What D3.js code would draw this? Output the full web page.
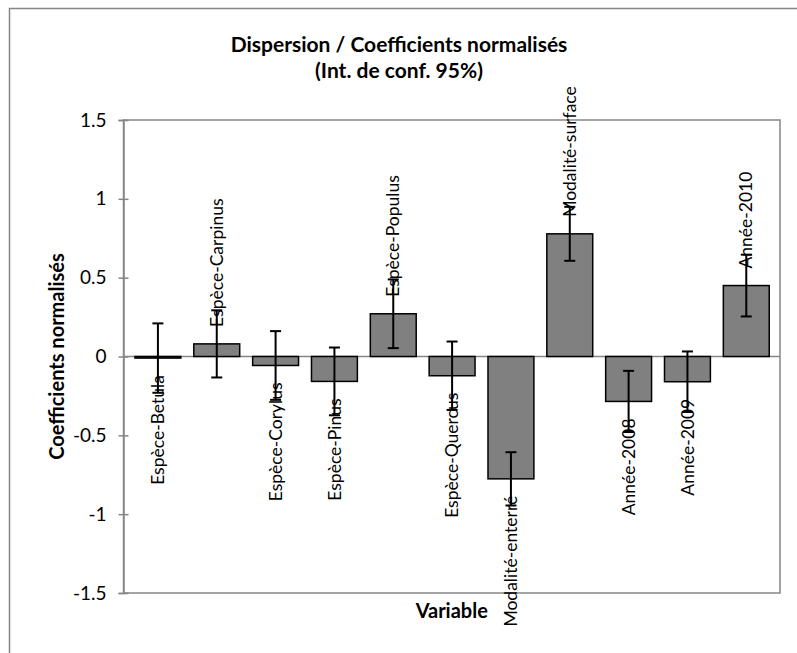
<!DOCTYPE html>
<html>
<head>
<meta charset="utf-8">
<script src="https://cdn.jsdelivr.net/npm/d3@7"></script>
<style>
  html, body { margin: 0; padding: 0; background: #fff; }
  svg { display: block; }
  text { font-family: Lato, "Open Sans", sans-serif; fill: #000; }
</style>
</head>
<body>
<svg id="chart" width="797" height="653"></svg>
<script>
// ---- data ----
const categories = ["Espèce-Betula", "Espèce-Carpinus", "Espèce-Corylus", "Espèce-Pinus",
  "Espèce-Populus", "Espèce-Quercus", "Modalité-enterré", "Modalité-surface",
  "Année-2008", "Année-2009", "Année-2010"];
const values = [-0.01, 0.08, -0.057, -0.158, 0.271, -0.122, -0.776, 0.778, -0.285, -0.160, 0.450];
const errors = [0.22, 0.213, 0.218, 0.215, 0.218, 0.217, 0.169, 0.171, 0.194, 0.192, 0.196];
const yTicks = [-1.5, -1, -0.5, 0, 0.5, 1, 1.5];
const yTickLabels = ["-1.5", "-1", "-0.5", "0", "0.5", "1", "1.5"];
const titleLines = ["Dispersion / Coefficients normalisés", "(Int. de conf. 95%)"];
const yTitle = "Coefficients normalisés";
const xTitle = "Variable";

// ---- layout ----
const svg = d3.select("#chart");
const plot = { left: 123.5, right: 780, top: 120, bottom: 593 };
const gray = "#868686";

// outer frame (extends past the image)
svg.append("rect")
  .attr("x", 9.5).attr("y", 8.5).attr("width", 820).attr("height", 700)
  .attr("fill", "#fff").attr("stroke", gray).attr("stroke-width", 1.5);

const x = d3.scaleBand().domain(categories).range([plot.left + 5, plot.right - 4.3])
  .paddingInner(0.22).paddingOuter(0.11);
const y = d3.scaleLinear().domain([-1.5, 1.5]).range([plot.bottom, plot.top]);

// plot area border
svg.append("rect")
  .attr("x", plot.left).attr("y", plot.top)
  .attr("width", plot.right - plot.left).attr("height", plot.bottom - plot.top)
  .attr("fill", "none").attr("stroke", gray).attr("stroke-width", 1.5);

// y axis
const yAxis = d3.axisLeft(y).tickValues(yTicks)
  .tickFormat((d, i) => yTickLabels[i]).tickSize(5).tickPadding(12);
const gy = svg.append("g").attr("transform", `translate(${plot.left},0)`).call(yAxis);
gy.select(".domain").attr("stroke", gray).attr("stroke-width", 1.5);
gy.selectAll(".tick line").attr("stroke", gray).attr("stroke-width", 1.5)
  .attr("x1", 5).attr("x2", -5);
gy.selectAll(".tick text").style("font-family", "Lato, sans-serif").style("font-size", "19px").attr("fill", "#000");

// zero line (category axis)
svg.append("line")
  .attr("x1", plot.left).attr("x2", plot.right)
  .attr("y1", y(0)).attr("y2", y(0))
  .attr("stroke", gray).attr("stroke-width", 1.5);

// bars
svg.append("g").selectAll("rect").data(categories).join("rect")
  .attr("x", d => x(d))
  .attr("width", x.bandwidth())
  .attr("y", (d, i) => y(Math.max(0, values[i])))
  .attr("height", (d, i) => Math.abs(y(values[i]) - y(0)))
  .attr("fill", "#808080").attr("stroke", "#000").attr("stroke-width", 1.5);

// labels
svg.append("g").selectAll("text").data(categories).join("text")
  .attr("transform", (d, i) => {
    const cx = x(d) + x.bandwidth() / 2;
    const yy = values[i] >= 0 ? y(values[i]) - 17 : y(values[i]) + 17;
    return `translate(${cx},${yy}) rotate(-90)`;
  })
  .attr("dy", "0.35em")
  .attr("text-anchor", (d, i) => values[i] >= 0 ? "start" : "end")
  .style("font-size", "17.5px")
  .text(d => d);

// error bars
const eb = svg.append("g").attr("stroke", "#000").attr("stroke-width", 2);
categories.forEach((c, i) => {
  const cx = x(c) + x.bandwidth() / 2;
  const lo = y(values[i] - errors[i]), hi = y(values[i] + errors[i]);
  eb.append("line").attr("x1", cx).attr("x2", cx).attr("y1", lo).attr("y2", hi);
  eb.append("line").attr("x1", cx - 5.5).attr("x2", cx + 5.5).attr("y1", lo).attr("y2", lo);
  eb.append("line").attr("x1", cx - 5.5).attr("x2", cx + 5.5).attr("y1", hi).attr("y2", hi);
});

// title
svg.append("text").attr("x", 399).attr("y", 51.5).attr("text-anchor", "middle")
  .style("font-size", "21px").style("font-weight", "bold").text(titleLines[0]);
svg.append("text").attr("x", 399).attr("y", 78).attr("text-anchor", "middle")
  .style("font-size", "21px").style("font-weight", "bold").text(titleLines[1]);

// axis titles
svg.append("text")
  .attr("transform", `translate(64,${(plot.top + plot.bottom) / 2}) rotate(-90)`)
  .attr("text-anchor", "middle")
  .style("font-size", "20px").style("font-weight", "bold").text(yTitle);
svg.append("text").attr("x", (plot.left + plot.right) / 2).attr("y", 618)
  .attr("text-anchor", "middle")
  .style("font-size", "20px").style("font-weight", "bold").text(xTitle);
</script>
</body>
</html>
